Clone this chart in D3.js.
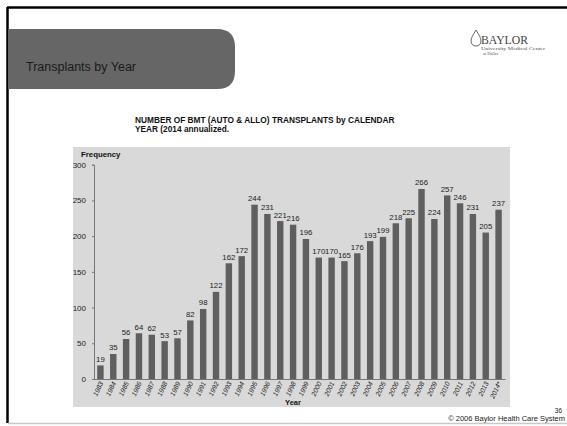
<!DOCTYPE html>
<html>
<head>
<meta charset="utf-8">
<script src="https://cdn.jsdelivr.net/npm/d3@7"></script>
<style>
  html, body { margin: 0; padding: 0; background: #fff; }
  svg { display: block; font-family: Arial, "Liberation Sans", sans-serif; }
</style>
</head>
<body>
<svg id="chart" width="567" height="426"></svg>
<script>
// Transplant counts per calendar year (2014 annualized)
const years = ["1983","1984","1985","1986","1987","1988","1989","1990","1991","1992",
  "1993","1994","1995","1996","1997","1998","1999","2000","2001","2002","2003","2004",
  "2005","2006","2007","2008","2009","2010","2011","2012","2013","2014*"];
const transplants = [19,35,56,64,62,53,57,82,98,122,162,172,244,231,221,216,196,
  170,170,165,176,193,199,218,225,266,224,257,246,231,205,237];
const yTicks = [0,50,100,150,200,250,300];

const svg = d3.select("#chart");

// slide frame
svg.append("line").attr("x1",7).attr("x2",567).attr("y1",7.5).attr("y2",7.5)
  .attr("stroke","#000").attr("stroke-width",2.5);
svg.append("line").attr("x1",7.5).attr("x2",7.5).attr("y1",7).attr("y2",423)
  .attr("stroke","#000").attr("stroke-width",2.5);
svg.append("line").attr("x1",8).attr("x2",567).attr("y1",423.5).attr("y2",423.5)
  .attr("stroke","#c8c8c8").attr("stroke-width",1.5);

// title tab with rounded right corners
const tx0 = 8, tx1 = 235, ty0 = 29, ty1 = 89, r = 18;
svg.append("path")
  .attr("d", `M${tx0},${ty0} H${tx1-r} Q${tx1},${ty0} ${tx1},${ty0+r} V${ty1-r} Q${tx1},${ty1} ${tx1-r},${ty1} H${tx0} Z`)
  .attr("fill","#666666");
svg.append("text").attr("x",26).attr("y",71).attr("font-size",12.5)
  .attr("fill","#1a1a1a").text("Transplants by Year");

// logo
const logo = svg.append("g");
logo.append("path")
  .attr("d","M476,30 C473,35 471,38 471,41 C471,44 473,46 476,46 C479,46 481,44 481,41 C481,38 479,35 476,30 Z")
  .attr("fill","none").attr("stroke","#555").attr("stroke-width",0.9);
logo.append("text").attr("x",481).attr("y",44).attr("font-family","'Liberation Serif', serif")
  .attr("font-size",12.5).attr("fill","#444").attr("textLength",47).attr("lengthAdjust","spacingAndGlyphs")
  .text("BAYLOR");
logo.append("text").attr("x",481).attr("y",50).attr("font-family","'Liberation Serif', serif")
  .attr("font-size",4.3).attr("fill","#555").attr("textLength",64).attr("lengthAdjust","spacingAndGlyphs")
  .text("University Medical Center");
logo.append("text").attr("x",483).attr("y",55).attr("font-family","'Liberation Serif', serif")
  .attr("font-size",4.3).attr("fill","#555").text("at Dallas");

// chart heading
const head = svg.append("text").attr("font-size",8.3).attr("font-weight","bold").attr("fill","#111");
head.append("tspan").attr("x",135).attr("y",123).text("NUMBER OF BMT (AUTO & ALLO) TRANSPLANTS by CALENDAR");
head.append("tspan").attr("x",135).attr("y",132).text("YEAR (2014 annualized.");

// chart panel
svg.append("rect").attr("x",73).attr("y",147).attr("width",437).attr("height",260).attr("fill","#d9d9d9");

const x0 = 94, x1 = 505, yBase = 379, yTop = 164.7;
const x = d3.scaleBand().domain(years).range([x0, x1]).paddingInner(0.5).paddingOuter(0.25);
const y = d3.scaleLinear().domain([0,300]).range([yBase, yTop]);

// bars
svg.append("g").selectAll("rect").data(years).join("rect")
  .attr("x", d => x(d)).attr("width", x.bandwidth())
  .attr("y", (d,i) => y(transplants[i])).attr("height", (d,i) => yBase - y(transplants[i]))
  .attr("fill","#5f5f5f");

// value labels
svg.append("g").selectAll("text").data(years).join("text")
  .attr("x", d => x(d) + x.bandwidth()/2)
  .attr("y", (d,i) => y(transplants[i]) - 3.5)
  .attr("text-anchor","middle").attr("font-size",7.8).attr("fill","#222")
  .text((d,i) => transplants[i]);

// y axis
const yAxis = svg.append("g").attr("transform",`translate(${x0},0)`)
  .call(d3.axisLeft(y).tickValues(yTicks).tickSize(2).tickPadding(6));
yAxis.select(".domain").attr("stroke","#777");
yAxis.selectAll(".tick line").attr("stroke","#777");
yAxis.selectAll(".tick text").attr("font-size",8).attr("fill","#222")
  .attr("font-family","Arial, 'Liberation Sans', sans-serif");

// x axis
const xAxis = svg.append("g").attr("transform",`translate(0,${yBase})`)
  .call(d3.axisBottom(x).tickSize(0).tickPadding(0));
xAxis.select(".domain").attr("stroke","#777");
xAxis.selectAll(".tick text")
  .attr("font-size",6.8).attr("fill","#222").attr("font-style","italic")
  .attr("font-family","Arial, 'Liberation Sans', sans-serif")
  .attr("text-anchor","end").attr("dy",0)
  .attr("transform","translate(3,4) rotate(-65)");

// axis titles
svg.append("text").attr("x",81).attr("y",157).attr("font-size",7.8).attr("font-weight","bold")
  .attr("fill","#111").text("Frequency");
svg.append("text").attr("x",293).attr("y",405).attr("text-anchor","middle").attr("font-size",7.5)
  .attr("font-weight","bold").attr("fill","#111").text("Year");

// footer
svg.append("text").attr("x",562).attr("y",413).attr("text-anchor","end").attr("font-size",6.5)
  .attr("fill","#222").text("36");
svg.append("text").attr("x",565).attr("y",421).attr("text-anchor","end").attr("font-size",7.5)
  .attr("fill","#222").text("© 2006 Baylor Health Care System");
</script>
</body>
</html>
